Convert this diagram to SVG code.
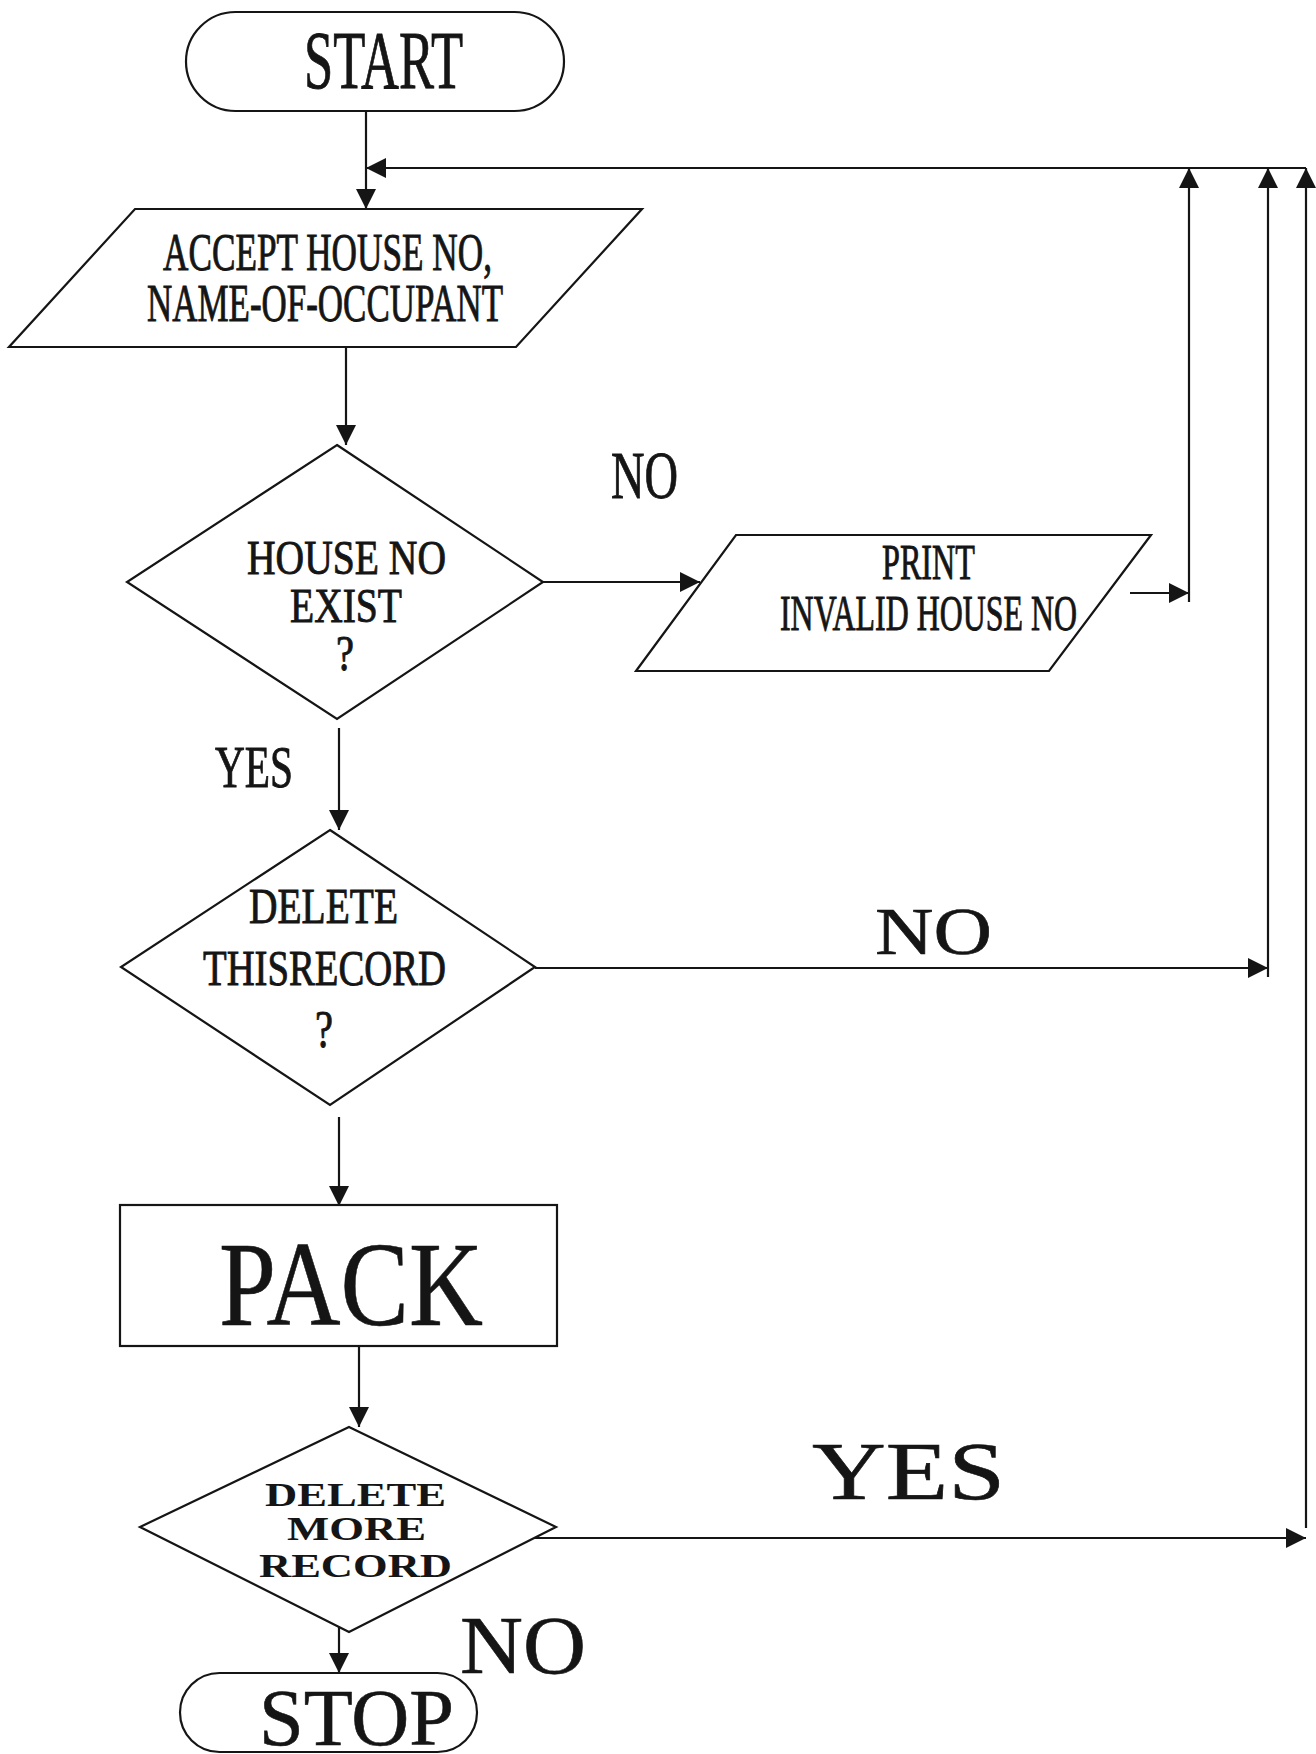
<svg xmlns="http://www.w3.org/2000/svg" width="1316" height="1754" viewBox="0 0 1316 1754">
  <style>
    .shape { fill: #ffffff; stroke: #151515; stroke-width: 2.2; }
    .link { fill: none; stroke: #151515; stroke-width: 2.2; }
    .txt { font-family: "Liberation Serif", "Times New Roman", serif; fill: #151515; stroke: #151515; stroke-width: 0.9; }
    .big { font-family: "Liberation Serif", "Times New Roman", serif; fill: #151515; stroke: #151515; stroke-width: 0.6; }
    .wide { font-family: "Liberation Serif", "Times New Roman", serif; fill: #151515; font-weight: bold; }
  </style>
  <defs>
    <marker id="arrow" viewBox="0 0 20 20" refX="20" refY="10" markerWidth="20" markerHeight="20" markerUnits="userSpaceOnUse" orient="auto">
      <path d="M0,0 L20,10 L0,20 z" fill="#151515"/>
    </marker>
  </defs>
  <rect width="1316" height="1754" fill="#ffffff"/>

  <g id="connectors">
    <!-- start to input -->
    <line class="link" x1="366" y1="111" x2="366" y2="209" marker-end="url(#arrow)"/>
    <!-- return bus along the top -->
    <line class="link" x1="1306" y1="168" x2="366" y2="168" marker-end="url(#arrow)"/>
    <line class="link" x1="1189" y1="602" x2="1189" y2="168" marker-end="url(#arrow)"/>
    <line class="link" x1="1268" y1="977" x2="1268" y2="168" marker-end="url(#arrow)"/>
    <line class="link" x1="1306" y1="1528" x2="1306" y2="168" marker-end="url(#arrow)"/>
    <!-- input to first decision -->
    <line class="link" x1="346" y1="347" x2="346" y2="445" marker-end="url(#arrow)"/>
    <!-- first decision NO branch -->
    <line class="link" x1="543" y1="582" x2="700" y2="582" marker-end="url(#arrow)"/>
    <line class="link" x1="1130" y1="593" x2="1189" y2="593" marker-end="url(#arrow)"/>
    <!-- first decision YES branch -->
    <line class="link" x1="339" y1="728" x2="339" y2="830" marker-end="url(#arrow)"/>
    <!-- second decision NO branch -->
    <line class="link" x1="535" y1="968" x2="1268" y2="968" marker-end="url(#arrow)"/>
    <!-- second decision to pack -->
    <line class="link" x1="339" y1="1117" x2="339" y2="1206" marker-end="url(#arrow)"/>
    <!-- pack to third decision -->
    <line class="link" x1="359" y1="1346" x2="359" y2="1427" marker-end="url(#arrow)"/>
    <!-- third decision YES branch -->
    <line class="link" x1="534" y1="1538" x2="1306" y2="1538" marker-end="url(#arrow)"/>
    <!-- third decision NO branch -->
    <line class="link" x1="339" y1="1613" x2="339" y2="1673" marker-end="url(#arrow)"/>
  </g>

  <g id="start">
    <rect class="shape" x="186" y="12" width="378" height="99" rx="49.5" ry="49.5"/>
    <text class="txt" x="304" y="88" font-size="83" textLength="159" lengthAdjust="spacingAndGlyphs">START</text>
  </g>

  <g id="accept-input">
    <polygon class="shape" points="135,209 642,209 516,347 9,347"/>
    <text class="txt" x="163" y="270" font-size="52" textLength="329" lengthAdjust="spacingAndGlyphs">ACCEPT HOUSE NO,</text>
    <text class="txt" x="147" y="321" font-size="53" textLength="356" lengthAdjust="spacingAndGlyphs">NAME-OF-OCCUPANT</text>
  </g>

  <g id="house-exists">
    <polygon class="shape" points="337,445 543,582 337,719 127,582"/>
    <text class="txt" x="247" y="574" font-size="48" textLength="199" lengthAdjust="spacingAndGlyphs">HOUSE NO</text>
    <text class="txt" x="290" y="622" font-size="48" textLength="112" lengthAdjust="spacingAndGlyphs">EXIST</text>
    <text class="txt" x="336" y="670" font-size="50" textLength="18" lengthAdjust="spacingAndGlyphs">?</text>
  </g>

  <g id="label-no-1">
    <text class="txt" x="611" y="498" font-size="68" textLength="67" lengthAdjust="spacingAndGlyphs">NO</text>
  </g>

  <g id="print-invalid">
    <polygon class="shape" points="736,535 1151,535 1049,671 636,671"/>
    <text class="txt" x="882" y="579" font-size="50" textLength="93" lengthAdjust="spacingAndGlyphs">PRINT</text>
    <text class="txt" x="780" y="630" font-size="50" textLength="297" lengthAdjust="spacingAndGlyphs">INVALID HOUSE NO</text>
  </g>

  <g id="label-yes-1">
    <text class="txt" x="215" y="787" font-size="60" textLength="78" lengthAdjust="spacingAndGlyphs">YES</text>
  </g>

  <g id="delete-this">
    <polygon class="shape" points="330,830 535,967 330,1105 121,967"/>
    <text class="txt" x="249" y="923" font-size="50" textLength="149" lengthAdjust="spacingAndGlyphs">DELETE</text>
    <text class="txt" x="203" y="985" font-size="50" textLength="243" lengthAdjust="spacingAndGlyphs">THISRECORD</text>
    <text class="txt" x="315" y="1047" font-size="52" textLength="18" lengthAdjust="spacingAndGlyphs">?</text>
  </g>

  <g id="label-no-2">
    <text class="big" x="875" y="954" font-size="67" textLength="117" lengthAdjust="spacingAndGlyphs">NO</text>
  </g>

  <g id="pack">
    <rect class="shape" x="120" y="1205" width="437" height="141"/>
    <text class="big" x="219" y="1325" font-size="120" textLength="264" lengthAdjust="spacingAndGlyphs">PACK</text>
  </g>

  <g id="delete-more">
    <polygon class="shape" points="349,1427 556,1527 349,1632 140,1527"/>
    <text class="wide" x="265" y="1506" font-size="34" textLength="181" lengthAdjust="spacingAndGlyphs">DELETE</text>
    <text class="wide" x="287" y="1540" font-size="34" textLength="139" lengthAdjust="spacingAndGlyphs">MORE</text>
    <text class="wide" x="259" y="1577" font-size="34" textLength="193" lengthAdjust="spacingAndGlyphs">RECORD</text>
  </g>

  <g id="label-yes-2">
    <text class="big" x="812" y="1499" font-size="82" textLength="193" lengthAdjust="spacingAndGlyphs">YES</text>
  </g>

  <g id="label-no-3">
    <text class="big" x="460" y="1673" font-size="83" textLength="126" lengthAdjust="spacingAndGlyphs">NO</text>
  </g>

  <g id="stop">
    <rect class="shape" x="180" y="1673" width="297" height="79" rx="39.5" ry="39.5"/>
    <text class="big" x="259" y="1745" font-size="80" textLength="195" lengthAdjust="spacingAndGlyphs">STOP</text>
  </g>
</svg>
